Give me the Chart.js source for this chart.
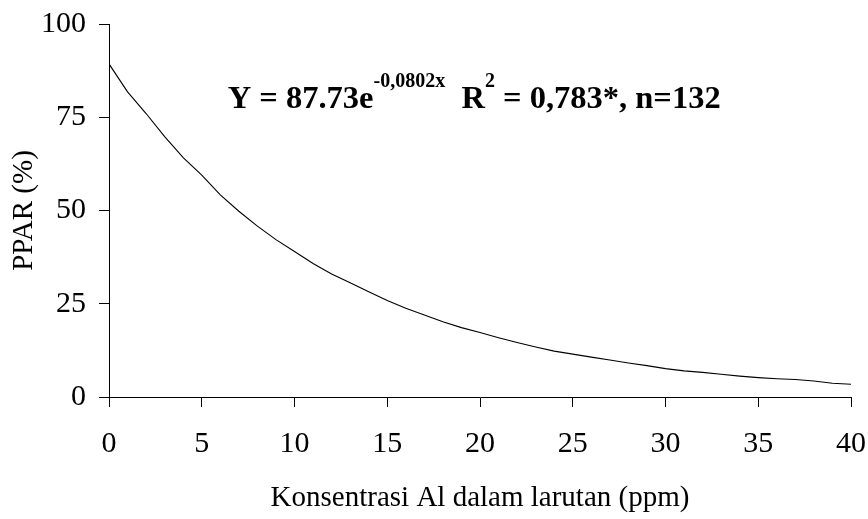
<!DOCTYPE html>
<html><head><meta charset="utf-8">
<script src="https://cdn.jsdelivr.net/npm/chart.js@4"></script>
<style>html,body{margin:0;padding:0;background:#fff}</style>
</head>
<body>
<canvas id="c" width="868" height="519"></canvas>
<script>
const xValues = [0,1,2,3,4,5,6,7,8,9,10,11,12,13,14,15,16,17,18,19,20,21,22,23,24,25,26,27,28,29,30,31,32,33,34,35,36,37,38,39,40];
const ppar = [89.3,81.8,76.0,69.8,64.2,59.5,54.2,49.8,45.8,42.2,39.0,35.8,33.0,30.6,28.2,25.9,23.8,22.0,20.2,18.6,17.3,15.9,14.6,13.4,12.3,11.5,10.7,9.9,9.1,8.4,7.6,7.0,6.6,6.1,5.6,5.2,4.9,4.7,4.3,3.7,3.4];
const xTicks = [0,5,10,15,20,25,30,35,40];
const yTicks = [0,25,50,75,100];
const xTitle = 'Konsentrasi Al dalam larutan (ppm)';
const yTitle = 'PPAR (%)';
const equationParts = [
  ['Y = 87.73e', 'main'],
  ['-0,0802x', 'sup'],
  ['  R', 'main'],
  ['2', 'sup'],
  [' = 0,783*, n=132', 'main']
];
const equationAt = [6.4, 77.5];

const FONT = '"Liberation Serif", "Times New Roman", serif';
const eqPlugin = {
  id: 'eq',
  afterDraw(chart) {
    const ctx = chart.ctx;
    let x = chart.scales.x.getPixelForValue(equationAt[0]);
    const y = chart.scales.y.getPixelForValue(equationAt[1]);
    ctx.save();
    ctx.fillStyle = '#000';
    ctx.textBaseline = 'alphabetic';
    ctx.textAlign = 'left';
    for (const [t, k] of equationParts) {
      if (k === 'sup') { ctx.font = 'bold 20px ' + FONT; ctx.fillText(t, x, y - 21); }
      else { ctx.font = 'bold 32.5px ' + FONT; ctx.fillText(t, x, y); }
      x += ctx.measureText(t).width;
    }
    ctx.restore();
  }
};

new Chart(document.getElementById('c'), {
  type: 'scatter',
  data: {
    datasets: [{
      data: xValues.map((v, i) => ({x: v, y: ppar[i]})),
      showLine: true,
      borderColor: '#000',
      borderWidth: 1.1,
      pointRadius: 0,
      tension: 0,
      fill: false
    }]
  },
  options: {
    responsive: false,
    animation: false,
    layout: { padding: { top: 24, right: 17, bottom: 3, left: 0 } },
    plugins: { legend: { display: false }, tooltip: { enabled: false } },
    scales: {
      x: {
        type: 'linear', min: 0, max: 40,
        afterBuildTicks(s) { s.ticks = xTicks.map(v => ({value: v})); },
        afterFit(s) { s.height = 519 - 397 - 3; s.paddingLeft = 0; s.paddingRight = 0; },
        grid: { display: true, drawOnChartArea: false, drawTicks: true, tickLength: 10, color: '#000' },
        border: { display: true, color: '#000', width: 1 },
        ticks: { color: '#000', padding: 19, font: { family: FONT, size: 30 }, maxRotation: 0 },
        title: { display: true, text: xTitle, color: '#000', font: { family: FONT, size: 29 }, padding: 0 }
      },
      y: {
        type: 'linear', min: 0, max: 100,
        afterBuildTicks(s) { s.ticks = yTicks.map(v => ({value: v})); },
        afterFit(s) { s.width = 109; s.paddingTop = 0; s.paddingBottom = 0; },
        grid: { display: true, drawOnChartArea: false, drawTicks: true, tickLength: 10, color: '#000' },
        border: { display: true, color: '#000', width: 1 },
        ticks: { color: '#000', padding: 13, font: { family: FONT, size: 30 } },
        title: { display: true, text: yTitle, color: '#000', font: { family: FONT, size: 29 }, padding: { top: 7, bottom: 0 } }
      }
    }
  },
  plugins: [eqPlugin]
});
</script>
</body></html>
